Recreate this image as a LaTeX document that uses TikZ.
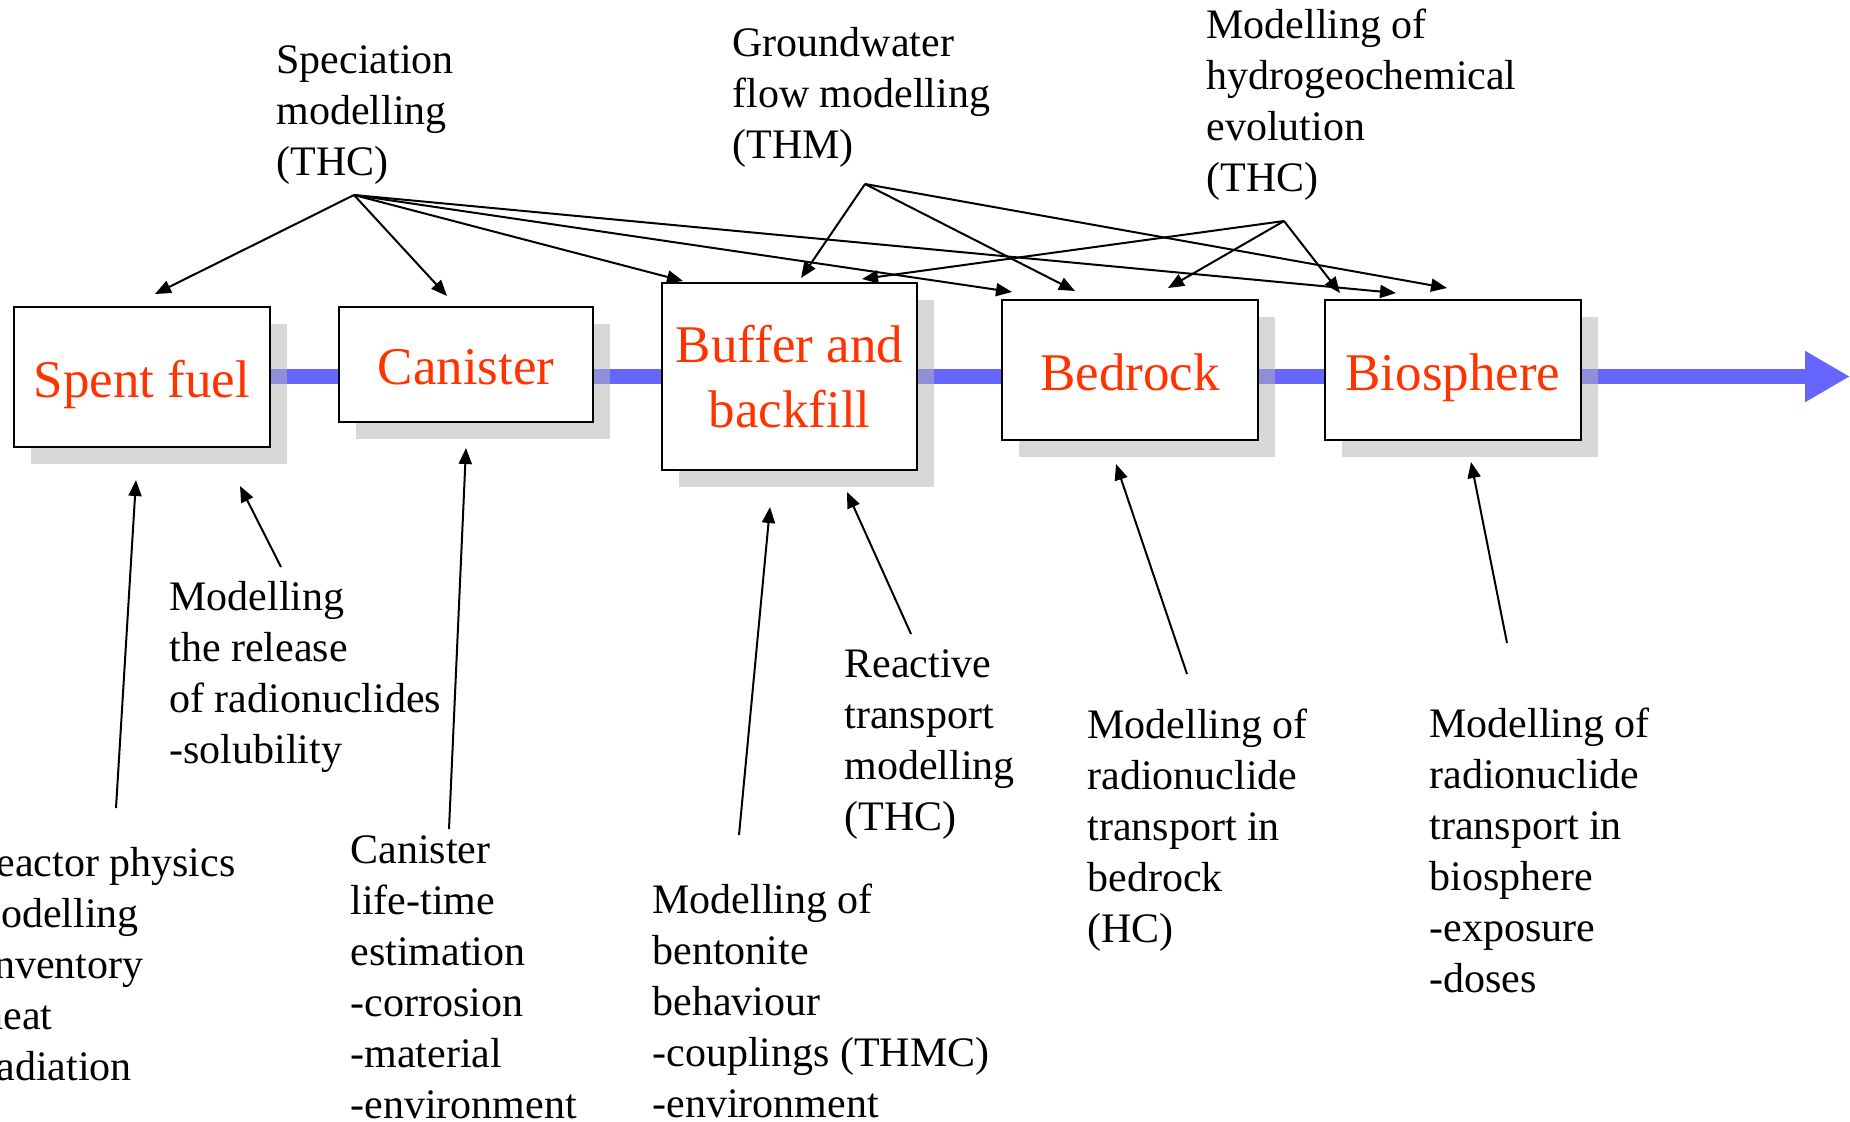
\documentclass[tikz,border=0pt]{standalone}
\usepackage{fontspec}
\setmainfont{Liberation Serif}
\usetikzlibrary{arrows.meta,shadows,backgrounds}
\definecolor{flowblue}{HTML}{6666FF}
\definecolor{boxred}{HTML}{FF3300}
\definecolor{shadowgray}{HTML}{B5B5B5}
\begin{document}
\begin{tikzpicture}[x=0.5pt,y=-0.5pt,
  box/.style={draw=black,line width=1pt,fill=white,
    font=\fontsize{26.5}{32.5}\selectfont,text=boxred,align=center,inner sep=0pt,
    drop shadow={shadow xshift=8.5pt,shadow yshift=-8.5pt,fill=shadowgray,opacity=0.52}},
  oneline/.style={text height=20pt,text depth=0pt},
  lbl/.style={font=\fontsize{21}{25.5}\selectfont,align=left,inner sep=0pt,anchor=north west},
  conn/.style={line width=1pt,-{Triangle[length=8pt,width=6.5pt]}},
  flow/.style={draw=flowblue,line width=7.5pt,-{Triangle[length=22.5pt,width=24pt]}}
]
\useasboundingbox (0,0) rectangle (1850,1121);
\clip (0,0) rectangle (1850,1121);

% boxes
\node[box,oneline,minimum width=128pt,minimum height=70pt] (sf) at (142,377) {Spent fuel};
\node[box,oneline,minimum width=127pt,minimum height=57.5pt] (can) at (466,364.5) {Canister};
\node[box,minimum width=127.5pt,minimum height=93.5pt] (buf) at (789.5,376.5) {\raisebox{-1.2pt}{Buffer and}\\\raisebox{-1.2pt}{backfill}};
\node[box,oneline,minimum width=128pt,minimum height=70pt] (bed) at (1130,370) {Bedrock};
\node[box,oneline,minimum width=128pt,minimum height=70pt] (bio) at (1453,370) {Biosphere};

% flow line behind everything
\coordinate (flowend) at (1850,376.5);
\begin{pgfonlayer}{background}
\fill[white] (0,0) rectangle (1850,1121);
\draw[flow] (sf.east |- 0,376.5) -- (flowend);
\end{pgfonlayer}

% labels
\node[lbl] (spec) at (276,37) {\strut Speciation\\modelling\\(THC)};
\node[lbl] (gw) at (732,20) {\strut Groundwater\\flow modelling\\(THM)};
\node[lbl] (hgc) at (1206,2) {\strut Modelling of\\hydrogeochemical\\evolution\\(THC)};
\node[lbl] (rel) at (169,574) {\strut Modelling\\the release\\of radionuclides\\-solubility};
\node[lbl] (rea) at (-32,840) {\strut Reactor physics\\modelling\\-inventory\\-heat\\-radiation};
\node[lbl] (cle) at (350,827) {\strut Canister\\life-time\\estimation\\-corrosion\\-material\\-environment};
\node[lbl] (ben) at (652,877) {\strut Modelling of\\bentonite\\behaviour\\-couplings (THMC)\\-environment};
\node[lbl] (rtm) at (844,641) {\strut Reactive\\transport\\modelling\\(THC)};
\node[lbl] (rtb) at (1087,702) {\strut Modelling of\\radionuclide\\transport in\\bedrock\\(HC)};
\node[lbl] (rtbio) at (1429,701) {\strut Modelling of\\radionuclide\\transport in\\biosphere\\-exposure\\-doses};

% origins of top connectors
\coordinate (spec-o) at (354,195);
\coordinate (gw-o) at (865,184);
\coordinate (hgc-o) at (1284,221);

% tips above boxes
\coordinate (t-spec-sf) at (155,294);
\coordinate (t-spec-can) at (447,296);
\coordinate (t-spec-buf) at (683,281);
\coordinate (t-spec-bed) at (1012,292);
\coordinate (t-spec-bio) at (1396,293);
\coordinate (t-gw-buf) at (801,278);
\coordinate (t-gw-bed) at (1075,291);
\coordinate (t-gw-bio) at (1447,288);
\coordinate (t-hgc-buf) at (862,279);
\coordinate (t-hgc-bed) at (1168,288);
\coordinate (t-hgc-bio) at (1340,293);

\foreach \t in {sf,can,buf,bed,bio} \draw[conn] (spec-o) -- (t-spec-\t);
\foreach \t in {buf,bed,bio} \draw[conn] (gw-o) -- (t-gw-\t);
\foreach \t in {buf,bed,bio} \draw[conn] (hgc-o) -- (t-hgc-\t);

% bottom connectors
\coordinate (rel-o) at (281,567);   \coordinate (rel-t) at (240,486);
\coordinate (rea-o) at (116,808);   \coordinate (rea-t) at (136,480);
\coordinate (cle-o) at (449,829);   \coordinate (cle-t) at (466,448);
\coordinate (ben-o) at (739,835);   \coordinate (ben-t) at (770,507);
\coordinate (rtm-o) at (911,634);   \coordinate (rtm-t) at (847,492);
\coordinate (rtb-o) at (1187,674);  \coordinate (rtb-t) at (1116,464);
\coordinate (rtbio-o) at (1507,643);\coordinate (rtbio-t) at (1471,462);
\foreach \n in {rel,rea,cle,ben,rtm,rtb,rtbio} \draw[conn] (\n-o) -- (\n-t);
\end{tikzpicture}
\end{document}
